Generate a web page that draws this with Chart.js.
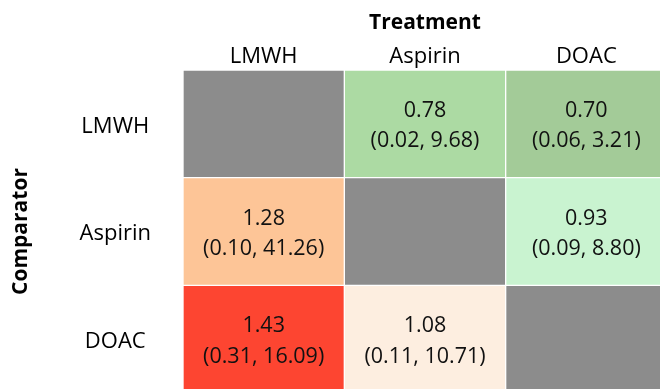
<!DOCTYPE html>
<html>
<head>
<meta charset="utf-8">
<script src="https://cdn.jsdelivr.net/npm/chart.js@4/dist/chart.umd.min.js"></script>
<style>
  html, body { margin: 0; padding: 0; background: #ffffff; overflow: hidden; width: 660px; height: 389px; }
  #wrap { position: relative; width: 667px; height: 393px; }
</style>
</head>
<body>
<div id="wrap"><canvas id="league"></canvas></div>
<script>
// Treatments across the top, comparators down the side
const treatments = ['LMWH', 'Aspirin', 'DOAC'];
const comparators = ['LMWH', 'Aspirin', 'DOAC'];

// Ratio estimates with 95% intervals, one row per comparator (diagonal empty)
const estimates = [
  [null, 0.78, 0.70],
  [1.28, null, 0.93],
  [1.43, 1.08, null]
];
const lowerCI = [
  [null, 0.02, 0.06],
  [0.10, null, 0.09],
  [0.31, 0.11, null]
];
const upperCI = [
  [null, 9.68, 3.21],
  [41.26, null, 8.80],
  [16.09, 10.71, null]
];

// Cell fills
const cellColors = [
  ['#8c8c8c', '#acdaa3', '#a3cb98'],
  ['#fdc597', '#8c8c8c', '#c9f3d0'],
  ['#fd4531', '#fdeee0', '#8c8c8c']
];

const FONT = "'Open Sans', 'Noto Sans', sans-serif";

// Every cell is one unit tall; rows are stacked from the top
const datasets = comparators.map((name, i) => ({
  label: name,
  data: treatments.map(() => 1),
  backgroundColor: cellColors[i],
  borderColor: '#ffffff',
  borderWidth: 1,
  borderSkipped: false,
  barPercentage: 1,
  categoryPercentage: 1,
  stack: 'rows'
}));

const fmt = v => v.toFixed(2);

const cellText = {
  id: 'cellText',
  afterDatasetsDraw(chart) {
    const ctx = chart.ctx;
    ctx.save();
    ctx.fillStyle = '#111111';
    ctx.textAlign = 'center';
    ctx.textBaseline = 'middle';
    ctx.font = "21.5px " + FONT;
    chart.data.datasets.forEach((ds, i) => {
      const meta = chart.getDatasetMeta(i);
      meta.data.forEach((bar, j) => {
        const est = estimates[i][j];
        if (est === null) return;
        const cy = (bar.y + bar.base) / 2;
        ctx.fillText(fmt(est), bar.x, cy - 13);
        ctx.fillText('(' + fmt(lowerCI[i][j]) + ', ' + fmt(upperCI[i][j]) + ')', bar.x, cy + 17.5);
      });
    });
    ctx.restore();
  }
};

new Chart(document.getElementById('league'), {
  type: 'bar',
  data: { labels: treatments, datasets },
  plugins: [cellText],
  options: {
    responsive: true,
    maintainAspectRatio: false,
    animation: false,
    layout: { padding: 0 },
    plugins: { legend: { display: false }, tooltip: { enabled: false } },
    scales: {
      x: {
        type: 'category',
        position: 'top',
        stacked: true,
        grid: { display: false, drawTicks: false },
        border: { display: false },
        ticks: { color: '#000000', font: { family: FONT, size: 22 }, padding: 0 },
        title: {
          display: true, text: 'Treatment', color: '#000000',
          font: { family: FONT, size: 21, weight: 'bold' },
          padding: { top: 10, bottom: 0 }
        },
        afterFit: s => { s.height = 70; }
      },
      y: {
        type: 'linear',
        display: false,
        stacked: true,
        reverse: true,
        min: 0,
        max: 3
      },
      rows: {
        type: 'category',
        position: 'left',
        labels: comparators,
        offset: true,
        grid: { display: false, drawTicks: false },
        border: { display: false },
        ticks: { color: '#000000', font: { family: FONT, size: 22 }, crossAlign: 'center', padding: 32, labelOffset: 2.5 },
        title: {
          display: true, text: 'Comparator', color: '#000000',
          font: { family: FONT, size: 21, weight: 'bold' },
          padding: { top: 8, bottom: 0 }
        },
        // fixed axis width; the label gap should not pad the plot vertically
        afterFit: s => { s.width = 183; s.paddingTop = 0; s.paddingBottom = 0; }
      }
    }
  }
});
</script>
</body>
</html>
